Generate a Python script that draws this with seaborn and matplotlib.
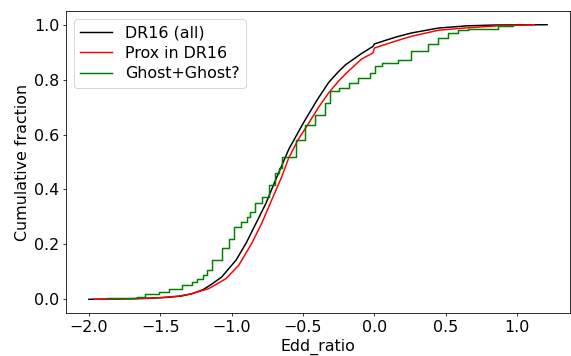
import matplotlib
matplotlib.use("Agg")
import matplotlib.pyplot as plt
import seaborn as sns
import pandas as pd

# DR16 (all)
dr16_x = [-2.00, -1.80, -1.60, -1.45, -1.35, -1.28, -1.20, -1.14, -1.07, -0.97,
          -0.90, -0.83, -0.76, -0.70, -0.60, -0.50, -0.40, -0.32,
          -0.25, -0.20, -0.09, -0.01, 0.00, 0.15, 0.26, 0.45, 0.65, 0.85, 1.21]
dr16_y = [0.000, 0.001, 0.003, 0.007, 0.012, 0.020, 0.035, 0.055, 0.081, 0.142,
          0.203, 0.276, 0.349, 0.425, 0.546, 0.640, 0.727, 0.790,
          0.830, 0.855, 0.895, 0.921, 0.930, 0.955, 0.970, 0.988, 0.996, 0.999, 1.000]

# Prox in DR16
prox_x = [-1.96, -1.70, -1.50, -1.38, -1.28, -1.16, -1.04, -0.95, -0.86, -0.79,
          -0.72, -0.65, -0.60, -0.53, -0.48, -0.39, -0.32, -0.25, -0.20, -0.09,
          -0.01, 0.00, 0.14, 0.26, 0.45, 0.63, 0.87, 1.12]
prox_y = [0.000, 0.002, 0.006, 0.011, 0.020, 0.039, 0.075, 0.124, 0.203, 0.276,
          0.361, 0.445, 0.515, 0.585, 0.625, 0.700, 0.752, 0.795, 0.822, 0.875,
          0.897, 0.915, 0.939, 0.958, 0.980, 0.988, 0.996, 1.000]

# Ghost+Ghost?
ghost_x = [-1.87, -1.66, -1.61, -1.51, -1.44, -1.35, -1.28, -1.24, -1.20, -1.17,
           -1.135, -1.065, -1.02, -0.984, -0.937, -0.89, -0.868, -0.833, -0.786,
           -0.74, -0.693, -0.67, -0.647, -0.55, -0.484, -0.414, -0.344, -0.309,
           -0.251, -0.181, -0.112, -0.03, 0.005, 0.051, 0.167, 0.26, 0.377, 0.447,
           0.516, 0.586, 0.656, 0.865, 0.97]
ghost_y = [0.003, 0.009, 0.021, 0.027, 0.039, 0.051, 0.063, 0.075, 0.087, 0.106,
           0.142, 0.185, 0.218, 0.264, 0.282, 0.300, 0.319, 0.349, 0.373,
           0.416, 0.459, 0.477, 0.520, 0.580, 0.635, 0.672, 0.714, 0.757,
           0.769, 0.787, 0.805, 0.824, 0.848, 0.860, 0.872, 0.905, 0.930, 0.951,
           0.970, 0.982, 0.985, 0.994, 1.000]

labels = ["DR16 (all)", "Prox in DR16", "Ghost+Ghost?"]
colors = ["black", "red", "green"]

plt.rcParams["font.family"] = ["DejaVu Sans"]
plt.rcParams["font.size"] = 16

DPI = 71.375
fig, ax = plt.subplots(figsize=(571 / DPI, 356 / DPI), dpi=DPI)
fig.subplots_adjust(left=66 / 571, right=570 / 571, bottom=1 - 313 / 356, top=1 - 11 / 356)

d1 = pd.DataFrame({"x": dr16_x, "y": dr16_y})
d2 = pd.DataFrame({"x": prox_x, "y": prox_y})
d3 = pd.DataFrame({"x": ghost_x, "y": ghost_y})

sns.lineplot(data=d1, x="x", y="y", ax=ax, color=colors[0], label=labels[0],
             sort=False, estimator=None, linewidth=1.5)
sns.lineplot(data=d2, x="x", y="y", ax=ax, color=colors[1], label=labels[1],
             sort=False, estimator=None, linewidth=1.5)
sns.lineplot(data=d3, x="x", y="y", ax=ax, color=colors[2], label=labels[2],
             sort=False, estimator=None, linewidth=1.5, drawstyle="steps-post")

ax.set_xlabel("Edd_ratio", fontsize=16)
ax.set_ylabel("Cumulative fraction", fontsize=16)
ax.set_xticks([-2.0, -1.5, -1.0, -0.5, 0.0, 0.5, 1.0])
ax.set_yticks([0.0, 0.2, 0.4, 0.6, 0.8, 1.0])
ax.tick_params(labelsize=16)
ax.legend(loc="upper left", fontsize=16, labelspacing=0.35)

fig.savefig("out.png", dpi=DPI)
